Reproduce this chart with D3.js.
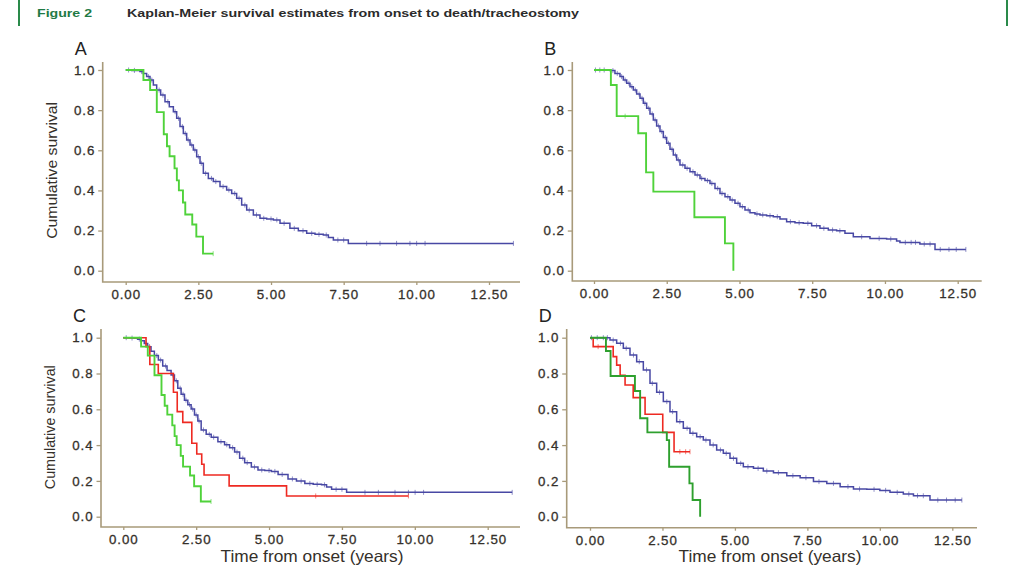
<!DOCTYPE html>
<html>
<head>
<meta charset="utf-8">
<script src="https://cdn.jsdelivr.net/npm/d3@7"></script>
<style>
    body { margin: 0; background: #fff; }
    svg { display: block; font-family: "Liberation Sans", Arial, sans-serif; }
</style>
</head>
<body>
<svg id="fig" width="1013" height="566"></svg>
<script>
// ---- data ----
const xTicks = [0, 2.5, 5, 7.5, 10, 12.5];
const yTicks = [0, 0.2, 0.4, 0.6, 0.8, 1.0];
const panelLetters = ["A", "B", "C", "D"];

// all patients (panels A, C): step times and survival after each step
const allAT = [0.205, 0.377, 0.49, 0.607, 0.72, 0.836, 0.951, 1.066, 1.203, 1.352, 1.50, 1.64, 1.754, 1.869, 1.983, 2.098, 2.213, 2.327, 2.442, 2.557, 2.671, 2.843, 3.015, 3.245, 3.474, 3.646, 3.818, 3.99, 4.163, 4.392, 4.62, 4.85, 5.08, 5.31, 5.65, 5.94, 6.227, 6.514, 6.80, 6.973, 7.145, 7.66];
const allAS = [0.998, 0.997, 0.992, 0.983, 0.967, 0.950, 0.925, 0.900, 0.875, 0.842, 0.817, 0.792, 0.759, 0.718, 0.684, 0.651, 0.626, 0.601, 0.568, 0.535, 0.485, 0.460, 0.444, 0.419, 0.402, 0.385, 0.361, 0.327, 0.302, 0.278, 0.261, 0.258, 0.253, 0.236, 0.211, 0.199, 0.186, 0.181, 0.178, 0.166, 0.153, 0.136];
const allAEnd = 13.34;
const allACens = [0.1, 0.3, 0.55, 0.78, 0.9, 1.15, 1.28, 1.45, 1.7, 1.82, 1.95, 2.05, 2.15, 2.27, 2.38, 2.5, 2.6, 2.75, 2.95, 3.1, 3.35, 3.55, 3.75, 3.9, 4.1, 4.25, 4.5, 4.75, 5.0, 5.2, 5.45, 5.8, 6.1, 6.4, 6.65, 6.9, 7.3, 7.5, 8.29, 8.75, 9.32, 9.78, 10.01, 10.3, 13.34];

// group 1 (green, panels A, C)
const grp1T = [0.61, 0.84, 1.07, 1.31, 1.42, 1.51, 1.68, 1.76, 1.83, 1.97, 2.05, 2.29, 2.43, 2.66];
const grp1S = [0.95, 0.90, 0.79, 0.68, 0.62, 0.57, 0.51, 0.45, 0.40, 0.34, 0.28, 0.23, 0.17, 0.085];
const grp1End = 3.01;
const grp1Cens = [3.01];

// group 2 (red, panel C)
const grp2T = [0.78, 0.91, 1.20, 1.72, 1.85, 2.04, 2.35, 2.52, 2.69, 2.77, 3.63, 5.60];
const grp2S = [0.95, 0.85, 0.80, 0.695, 0.587, 0.527, 0.41, 0.35, 0.293, 0.233, 0.172, 0.116];
const grp2End = 9.78;
const grp2Cens = [6.6, 9.78];

// all patients (panel B)
const allBT = [0.55, 0.72, 0.893, 1.008, 1.123, 1.237, 1.352, 1.466, 1.581, 1.695, 1.81, 1.924, 2.039, 2.153, 2.268, 2.383, 2.497, 2.612, 2.726, 2.841, 2.955, 3.127, 3.299, 3.471, 3.643, 3.814, 3.986, 4.158, 4.33, 4.502, 4.674, 4.845, 5.017, 5.189, 5.361, 5.533, 5.704, 5.933, 6.162, 6.392, 6.62, 6.907, 7.193, 7.48, 7.766, 8.053, 8.339, 8.625, 8.912, 9.485, 10.057, 10.4, 10.515, 11.2, 11.72];
const allBS = [0.997, 0.983, 0.967, 0.950, 0.934, 0.917, 0.900, 0.880, 0.859, 0.834, 0.809, 0.781, 0.751, 0.721, 0.693, 0.664, 0.635, 0.605, 0.576, 0.552, 0.527, 0.510, 0.493, 0.477, 0.460, 0.449, 0.435, 0.410, 0.385, 0.369, 0.352, 0.336, 0.319, 0.302, 0.289, 0.283, 0.278, 0.274, 0.269, 0.258, 0.244, 0.239, 0.236, 0.224, 0.211, 0.203, 0.199, 0.186, 0.169, 0.161, 0.158, 0.148, 0.141, 0.133, 0.106];
const allBEnd = 12.78;
const allBCens = [0.05, 0.2, 0.35, 0.65, 0.8, 0.95, 1.07, 1.2, 1.3, 1.42, 1.55, 1.65, 1.75, 1.88, 2.0, 2.1, 2.22, 2.33, 2.45, 2.56, 2.68, 2.8, 2.9, 3.05, 3.2, 3.4, 3.55, 3.7, 3.9, 4.05, 4.25, 4.4, 4.6, 4.75, 4.95, 5.1, 5.3, 5.6, 5.8, 6.05, 6.3, 6.75, 7.05, 7.35, 7.65, 7.9, 8.2, 8.45, 9.2, 9.8, 10.2, 10.7, 10.9, 11.05, 11.35, 11.55, 11.9, 12.2, 12.45, 12.78];

// group 3 (green, panel B)
const grp3T = [0.58, 0.78, 1.52, 1.79, 2.04, 3.45, 4.50, 4.79];
const grp3S = [0.925, 0.77, 0.685, 0.49, 0.394, 0.266, 0.136, 0.0];
const grp3End = 4.79;
const grp3Cens = [1.07];

// all others (panel D)
const allDT = [0.69, 0.92, 1.15, 1.38, 1.61, 1.84, 2.07, 2.30, 2.53, 2.76, 2.99, 3.22, 3.45, 3.68, 3.91, 4.14, 4.37, 4.60, 4.83, 5.06, 5.29, 5.64, 5.98, 6.33, 6.79, 7.25, 7.71, 8.17, 8.63, 9.09, 9.55, 10.0, 10.35, 10.81, 11.16, 11.73];
const allDS = [0.987, 0.969, 0.941, 0.903, 0.866, 0.820, 0.745, 0.695, 0.643, 0.587, 0.531, 0.494, 0.466, 0.447, 0.428, 0.401, 0.373, 0.354, 0.326, 0.298, 0.279, 0.270, 0.255, 0.246, 0.229, 0.218, 0.196, 0.186, 0.168, 0.155, 0.153, 0.147, 0.136, 0.127, 0.117, 0.093];
const allDEnd = 12.83;
const allDCens = [0.05, 0.25, 0.46, 0.6, 0.8, 1.05, 1.25, 1.5, 1.7, 1.95, 2.15, 2.4, 2.65, 2.85, 3.1, 3.35, 3.55, 3.8, 4.0, 4.25, 4.5, 4.7, 4.95, 5.2, 5.45, 5.8, 6.1, 6.5, 7.0, 7.45, 7.9, 8.4, 8.9, 9.3, 9.8, 10.2, 10.6, 11.0, 11.3, 11.5, 12.0, 12.3, 12.6, 12.83];

// group 4 (red, panel D)
const grp4T = [0.11, 0.80, 0.92, 1.04, 1.21, 1.49, 1.90, 2.51, 2.90];
const grp4S = [0.95, 0.894, 0.847, 0.79, 0.736, 0.665, 0.572, 0.471, 0.363];
const grp4End = 3.45;
const grp4Cens = [0.28, 3.1, 3.3, 3.45];

// group 5 (dark green, panel D)
const grp5T = [0.55, 0.71, 1.55, 1.73, 1.98, 2.65, 2.73, 3.43, 3.54, 3.80];
const grp5S = [0.926, 0.786, 0.702, 0.55, 0.471, 0.428, 0.279, 0.186, 0.093, 0.0];
const grp5End = 3.80;
const grp5Cens = [];

// ---- layout ----
const svg = d3.select("#fig");
const axisColor = "#a89a7a";
const textColor = "#35302a";
const blue = "#4848a4", green = "#4fd23a", red = "#ee2a22", darkGreen = "#2ea02e";

const panels = [
    { letter: panelLetters[0], left: 102.7, x0: 125.7, x1: 489, right: 520, top: 62, yHi: 70, yLo: 270.7, base: 282, ylabel: true, xlabel: null,
      series: [
        { t: allAT, s: allAS, end: allAEnd, cens: allACens, color: blue, w: 1.5 },
        { t: grp1T, s: grp1S, end: grp1End, cens: grp1Cens, color: green, w: 1.9 }
      ] },
    { letter: panelLetters[1], left: 572.3, x0: 594, x1: 957.7, right: 981.7, top: 62, yHi: 70, yLo: 270.7, base: 281, ylabel: false, xlabel: null,
      series: [
        { t: allBT, s: allBS, end: allBEnd, cens: allBCens, color: blue, w: 1.5 },
        { t: grp3T, s: grp3S, end: grp3End, cens: grp3Cens, color: green, w: 1.9 }
      ] },
    { letter: panelLetters[2], left: 101, x0: 123.3, x1: 487.7, right: 520, top: 329, yHi: 337.7, yLo: 516.7, base: 527, ylabel: true, xlabel: 312,
      series: [
        { t: allAT, s: allAS, end: allAEnd, cens: allACens, color: blue, w: 1.5 },
        { t: grp2T, s: grp2S, end: grp2End, cens: grp2Cens, color: red, w: 1.6 },
        { t: grp1T, s: grp1S, end: grp1End, cens: grp1Cens, color: green, w: 1.9 }
      ] },
    { letter: panelLetters[3], left: 566.7, x0: 590, x1: 952.3, right: 977, top: 329, yHi: 337.7, yLo: 516.7, base: 527.7, ylabel: false, xlabel: 770,
      series: [
        { t: allDT, s: allDS, end: allDEnd, cens: allDCens, color: blue, w: 1.5 },
        { t: grp4T, s: grp4S, end: grp4End, cens: grp4Cens, color: red, w: 1.6 },
        { t: grp5T, s: grp5S, end: grp5End, cens: grp5Cens, color: darkGreen, w: 1.9 }
      ] }
];

// header
svg.append("line").attr("x1", 19).attr("x2", 19).attr("y1", 0).attr("y2", 26)
    .attr("stroke", "#2a8a4a").attr("stroke-width", 2);
svg.append("line").attr("x1", 1007).attr("x2", 1007).attr("y1", 0).attr("y2", 26)
    .attr("stroke", "#2a8a4a").attr("stroke-width", 2);
svg.append("text").attr("x", 37).attr("y", 17)
    .attr("font-size", 10.5).attr("font-weight", "bold").attr("fill", "#1f7a45")
    .attr("textLength", 55).attr("lengthAdjust", "spacingAndGlyphs")
    .text("Figure 2");
svg.append("text").attr("x", 127).attr("y", 17)
    .attr("font-size", 10.5).attr("font-weight", "bold").attr("fill", "#2b2b2b")
    .attr("textLength", 452).attr("lengthAdjust", "spacingAndGlyphs")
    .text("Kaplan-Meier survival estimates from onset to death/tracheostomy");

function stepPoints(t, s, end) {
    const pts = [[0, 1]];
    t.forEach((d, i) => {
        pts.push([d, pts[pts.length - 1][1]]);
        pts.push([d, s[i]]);
    });
    pts.push([end, pts[pts.length - 1][1]]);
    return pts;
}

function survAt(t, s, time) {
    let v = 1;
    t.forEach((d, i) => { if (d <= time) v = s[i]; });
    return v;
}

panels.forEach(p => {
    const x = d3.scaleLinear().domain([0, 12.5]).range([p.x0, p.x1]);
    const y = d3.scaleLinear().domain([0, 1]).range([p.yLo, p.yHi]);
    const g = svg.append("g");

    // axes
    const xAxis = g.append("g").attr("transform", `translate(0,${p.base})`)
        .call(d3.axisBottom(x).tickValues(xTicks).tickFormat(d3.format(".2f")).tickSize(3).tickPadding(5));
    const yAxis = g.append("g").attr("transform", `translate(${p.left},0)`)
        .call(d3.axisLeft(y).tickValues(yTicks).tickFormat(d3.format(".1f")).tickSize(4.5).tickPadding(3));
    [xAxis, yAxis].forEach(a => {
        a.select(".domain").remove();
        a.selectAll(".tick line").attr("stroke", axisColor).attr("stroke-width", 1.3);
        a.selectAll(".tick text").attr("fill", textColor).attr("font-size", 13.3)
            .attr("stroke", textColor).attr("stroke-width", 0.3)
            .attr("font-family", "Liberation Sans, Arial, sans-serif").attr("letter-spacing", 0.9);
    });
    g.append("path")
        .attr("d", `M${p.left},${p.top}V${p.base}H${p.right}`)
        .attr("fill", "none").attr("stroke", axisColor).attr("stroke-width", 1.6);

    // panel letter
    g.append("text").attr("x", p.left - 28).attr("y", p.top - 7)
        .attr("font-size", 18).attr("fill", "#222").text(p.letter);

    if (p.ylabel) {
        g.append("text")
            .attr("transform", `translate(${p.left - 46},${(p.yHi + p.yLo) / 2}) rotate(-90)`)
            .attr("text-anchor", "middle").attr("font-size", 15.5).attr("fill", textColor)
            .attr("textLength", p.yLo - p.yHi > 190 ? 137 : 124).attr("lengthAdjust", "spacingAndGlyphs")
            .text("Cumulative survival");
    }
    if (p.xlabel) {
        g.append("text").attr("x", p.xlabel).attr("y", 562)
            .attr("text-anchor", "middle").attr("font-size", 16.5).attr("fill", textColor)
            .attr("textLength", 183).attr("lengthAdjust", "spacingAndGlyphs")
            .text("Time from onset (years)");
    }

    // curves
    const line = d3.line().x(d => x(d[0])).y(d => y(d[1]));
    p.series.forEach(sr => {
        g.append("path")
            .attr("d", line(stepPoints(sr.t, sr.s, sr.end)))
            .attr("fill", "none").attr("stroke", sr.color).attr("stroke-width", sr.w)
            .attr("stroke-linejoin", "miter");
        g.selectAll(null).data(sr.cens).join("line")
            .attr("x1", d => x(d)).attr("x2", d => x(d))
            .attr("y1", d => y(survAt(sr.t, sr.s, d)) - 2.5)
            .attr("y2", d => y(survAt(sr.t, sr.s, d)) + 2.5)
            .attr("stroke", sr.color).attr("stroke-opacity", 0.6).attr("stroke-width", 1);
    });
});
</script>
</body>
</html>
